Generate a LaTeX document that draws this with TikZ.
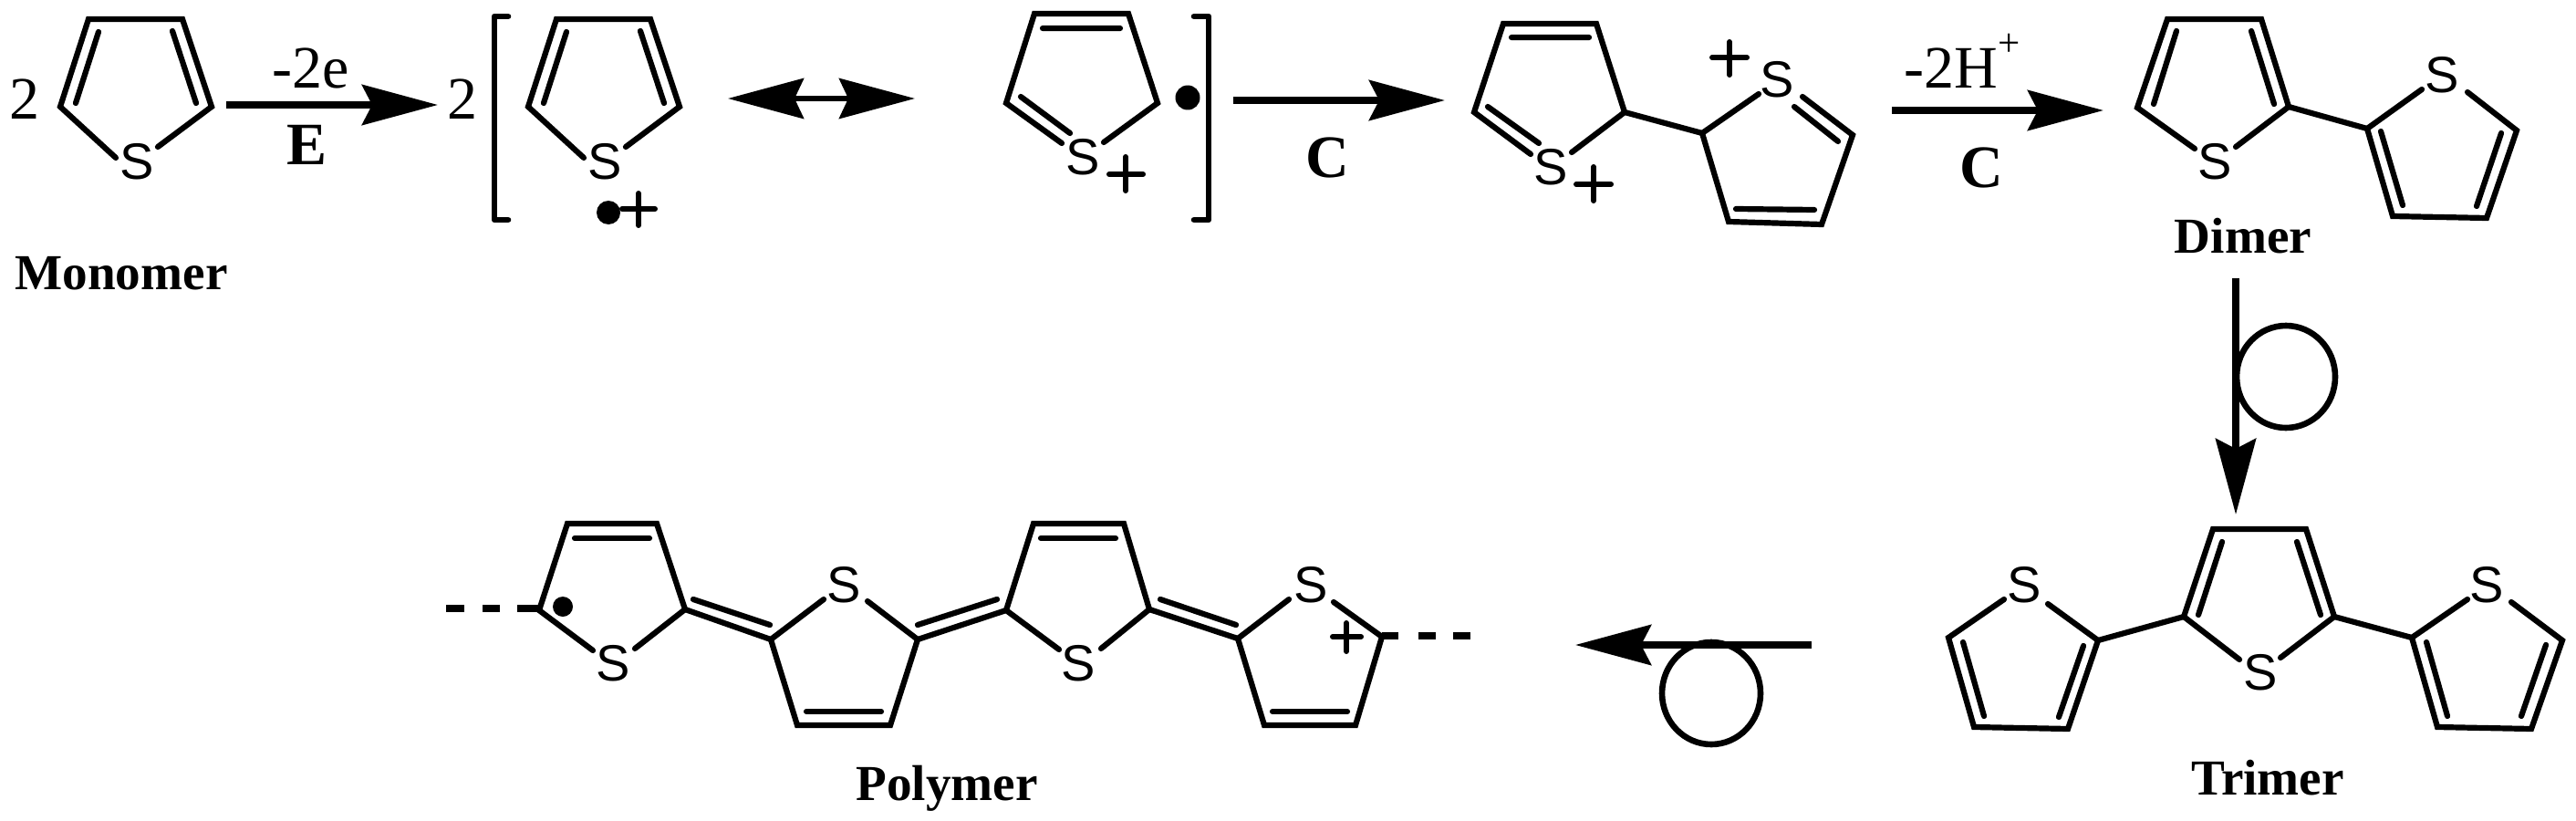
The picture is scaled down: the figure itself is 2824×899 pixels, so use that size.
\documentclass[tikz,border=0pt]{standalone}
\usepackage{fontspec}
\setmainfont{Liberation Serif}
\newfontfamily\atomfont{Liberation Sans}
\usetikzlibrary{arrows.meta}
\tikzset{
  bond/.style={line width=3.1pt,line cap=round,line join=miter},
  rxn/.style={line width=3.8pt,-{Stealth[length=41.5pt,width=22pt,inset=5.5pt]}},
  rxnboth/.style={line width=3.2pt,{Stealth[length=41.5pt,width=22pt,inset=5pt]}-{Stealth[length=41.5pt,width=22pt,inset=5pt]}},
  brk/.style={line width=3.3pt,line cap=round,line join=round},
  dashbit/.style={line width=3.8pt},
  loopc/.style={line width=3.3pt},
  plusmark/.style={line width=3pt,line cap=round},
  atom/.style={inner sep=0pt,font=\atomfont\fontsize{28}{30}\selectfont},
  cnt/.style={inner sep=0pt,anchor=base,font=\fontsize{33}{36}\selectfont},
  cond/.style={inner sep=0pt,anchor=base,font=\bfseries\fontsize{33}{36}\selectfont},
  cname/.style={inner sep=0pt,anchor=base,font=\bfseries\fontsize{27.6}{30}\selectfont},
}
\begin{document}
\begin{tikzpicture}[x=0.5pt,y=-0.5pt]
\useasboundingbox (0,0) rectangle (2824,899);

% ---- Monomer
\node[cnt] (two1) at (27,130) {2};
\node[atom] (s1) at (150,177) {S};
\draw[bond] (127,173) -- (66,117) -- (97,21) -- (200,21) -- (232,117) -- (173,161);
\draw[bond] (108,35) -- (83,113) (189,34) -- (215,113);
\node[cname] (monomer) at (133,317) {Monomer};

% ---- Arrow E
\coordinate (a1s) at (248,115); \coordinate (a1e) at (480,115);
\draw[rxn] (a1s) -- (a1e);
\node[cnt] (m2e) at (341,97) {-2e};
\node[cond] (lE) at (337,180) {E};
\node[cnt] (two2) at (507,130) {2};

% ---- Bracket left
\draw[brk] (557,18) -- (542,18) -- (542,241) -- (557,241);

% ---- Radical cation 1
\node[atom] (s2) at (663,177) {S};
\draw[bond] (640,173) -- (579,117) -- (610,21) -- (713,21) -- (745,117) -- (686,161);
\draw[bond] (621,35) -- (596,113) (702,34) -- (728,113);
\fill (667,233) circle[radius=13];
\draw[plusmark] (682,229) -- (718,229) (700,212) -- (700,247);

% ---- Resonance arrow
\coordinate (a2s) at (798,108); \coordinate (a2e) at (1003,108);
\draw[rxnboth] (a2s) -- (a2e);

% ---- Radical cation 2
\node[atom] (s3) at (1187,172) {S};
\draw[bond] (1164,157) -- (1103,113) -- (1134,15) -- (1237,15) -- (1269,113) -- (1210,156);
\draw[bond] (1143,31) -- (1228,31) (1119,106) -- (1173,146);
\fill (1302,107) circle[radius=13.5];
\draw[plusmark] (1216,191) -- (1253,191) (1234,172) -- (1234,209);
\draw[brk] (1309,18) -- (1325,18) -- (1325,241) -- (1309,241);

% ---- Arrow C
\coordinate (a3s) at (1352,110); \coordinate (a3e) at (1584,110);
\draw[rxn] (a3s) -- (a3e);
\node[cond] (lC1) at (1455,194) {C};

% ---- Dication dimer
\node[atom] (s4) at (1700,183) {S};
\draw[bond] (1678,169) -- (1616,123) -- (1648,26) -- (1750,26) -- (1781,123) -- (1723,167);
\draw[bond] (1657,41) -- (1742,41) (1631,117) -- (1687,157);
\draw[bond] (1781,123) -- (1866,146);
\node[atom] (s5) at (1948,87) {S};
\draw[bond] (1928,103) -- (1866,146) -- (1895,243) -- (1997,246) -- (2031,148) -- (1976,106);
\draw[bond] (1903,229) -- (1989,230) (1967,117) -- (2015,155);
\draw[plusmark] (1728,202) -- (1766,202) (1747,183) -- (1747,220);
\draw[plusmark] (1877,63) -- (1915,63) (1896,46) -- (1896,82);

% ---- Arrow -2H+
\coordinate (a4s) at (2074,121); \coordinate (a4e) at (2306,121);
\draw[rxn] (a4s) -- (a4e);
\node[cnt] (m2h) at (2151,97) {-2H\raisebox{17.5pt}{\fontsize{21.5}{24}\selectfont +}};
\node[cond] (lC2) at (2172,205) {C};

% ---- Dimer
\node[atom] (s6) at (2428,177) {S};
\draw[bond] (2406,163) -- (2343,118) -- (2376,21) -- (2479,21) -- (2509,117) -- (2451,161);
\draw[bond] (2386,34) -- (2361,114) (2468,34) -- (2493,114);
\draw[bond] (2509,117) -- (2595,141);
\node[atom] (s7) at (2677,82) {S};
\draw[bond] (2655,98) -- (2595,141) -- (2623,237) -- (2726,239) -- (2759,143) -- (2705,101);
\draw[bond] (2610,144) -- (2634,225) (2742,146) -- (2715,226);
\node[cname] (dimer) at (2459,277) {Dimer};

% ---- Arrow to trimer
\coordinate (a5s) at (2451,305); \coordinate (a5e) at (2451,564);
\draw[rxn] (a5s) -- (a5e);
\draw[loopc] (2506,413) ellipse[x radius=54,y radius=56];

% ---- Trimer
\node[atom] (s8) at (2478,737) {S};
\draw[bond] (2455,723) -- (2394,676) -- (2426,580) -- (2528,580) -- (2559,676) -- (2500,721);
\draw[bond] (2436,594) -- (2410,674) (2518,594) -- (2544,674);
\draw[bond] (2394,676) -- (2300,702);
\node[atom] (s9) at (2219,641) {S};
\draw[bond] (2245,662) -- (2300,702) -- (2267,799) -- (2164,797) -- (2136,699) -- (2197,657);
\draw[bond] (2152,704) -- (2175,785) (2284,708) -- (2257,786);
\draw[bond] (2559,676) -- (2644,699);
\node[atom] (s10) at (2726,641) {S};
\draw[bond] (2705,657) -- (2644,699) -- (2672,797) -- (2775,799) -- (2809,702) -- (2753,660);
\draw[bond] (2660,704) -- (2683,785) (2791,707) -- (2764,785);
\node[cname] (trimer) at (2486,871) {Trimer};

% ---- Arrow to polymer
\coordinate (a6s) at (1986,707); \coordinate (a6e) at (1727,707);
\draw[rxn] (a6s) -- (a6e);
\draw[loopc] (1876,760) ellipse[x radius=54,y radius=56];

% ---- Polymer
\draw[dashbit] (489,667) -- (509,667) (529,667) -- (548,667) (567,667) -- (591,667);
\node[atom] (p1) at (672,727) {S};
\draw[bond] (650,713) -- (591,669) -- (622,574) -- (720,574) -- (751,668) -- (696,711);
\draw[bond] (630,590) -- (712,590);
\fill (617,665) circle[radius=11];
\draw[bond] (751,668) -- (845,701) (760,657) -- (844,685);
\node[atom] (p2) at (925,641) {S};
\draw[bond] (903,657) -- (845,701) -- (874,795) -- (976,795) -- (1006,701) -- (951,659);
\draw[bond] (884,780) -- (966,780);
\draw[bond] (1006,701) -- (1103,669) (1006,685) -- (1093,657);
\node[atom] (p3) at (1182,727) {S};
\draw[bond] (1161,712) -- (1103,669) -- (1133,574) -- (1232,574) -- (1260,668) -- (1207,711);
\draw[bond] (1141,590) -- (1223,590);
\draw[bond] (1260,668) -- (1357,700) (1272,657) -- (1355,685);
\node[atom] (p4) at (1437,641) {S};
\draw[bond] (1413,657) -- (1357,700) -- (1386,795) -- (1486,795) -- (1515,698) -- (1462,660);
\draw[bond] (1395,780) -- (1477,780);
\draw[dashbit] (1515,697) -- (1533,697) (1555,697) -- (1574,697) (1593,697) -- (1612,697);
\draw[plusmark] (1461,698) -- (1492,698) (1476,683) -- (1476,714);
\node[cname] (polymer) at (1038,877) {Polymer};
\end{tikzpicture}
\end{document}
